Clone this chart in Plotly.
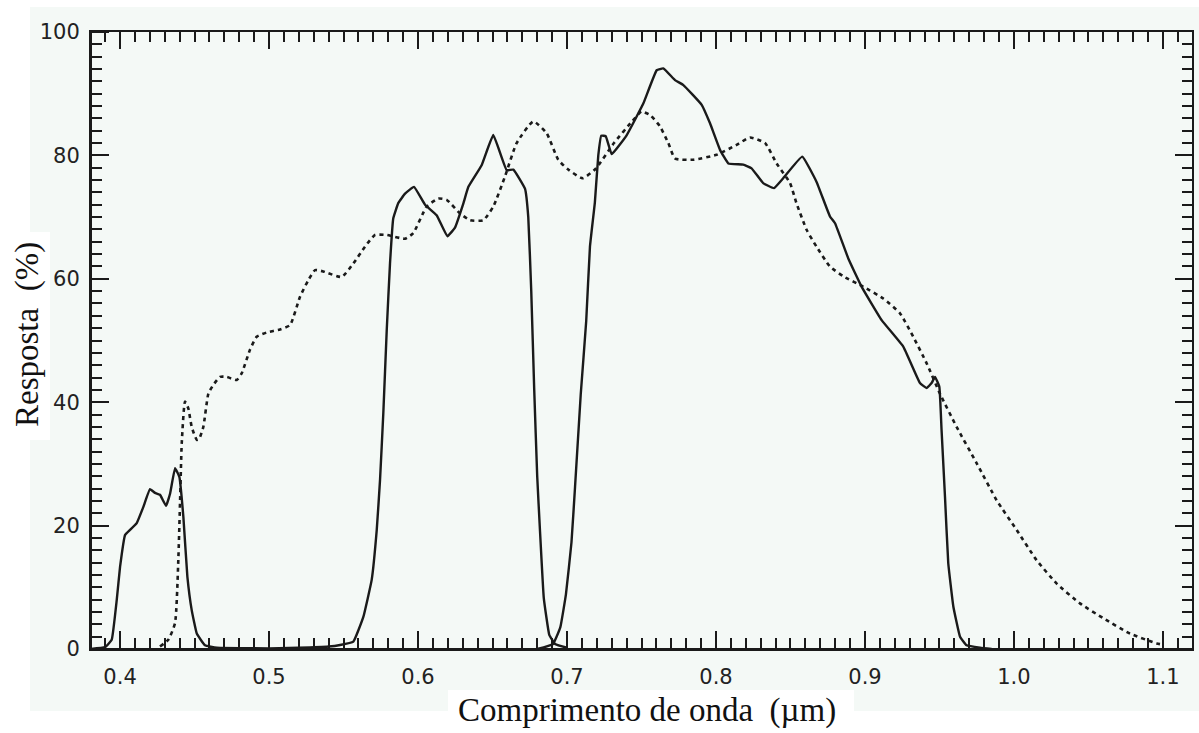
import plotly.graph_objects as go

# ---- data (wavelength in µm, response in %) ----
band1_x = [0.380, 0.390, 0.3944, 0.3978, 0.400, 0.4034, 0.4067, 0.4112, 0.4156, 0.4201, 0.4235,
           0.4268, 0.4309, 0.4336, 0.4369, 0.4398, 0.4425, 0.4452, 0.4481, 0.4515, 0.4570, 0.465, 0.500]
band1_y = [0.0, 0.3, 1.5, 8.0, 13.3, 18.5, 19.3, 20.4, 23.0, 25.9, 25.3,
           25.0, 23.2, 25.2, 29.3, 27.9, 21.4, 11.7, 6.3, 2.5, 0.6, 0.2, 0.1]

band2_x = [0.500, 0.520, 0.540, 0.5477, 0.5566, 0.5633, 0.5689, 0.5723, 0.5745, 0.5767, 0.5790,
           0.5812, 0.5834, 0.5868, 0.5913, 0.5973, 0.6047, 0.6125, 0.6197, 0.6248, 0.6304, 0.6338,
           0.6427, 0.6505, 0.6595, 0.6640, 0.6718, 0.6740, 0.6760, 0.6780, 0.6800, 0.6819, 0.6844,
           0.6881, 0.6920, 0.7000]
band2_y = [0.1, 0.2, 0.4, 0.65, 1.2, 5.2, 11.2, 19.3, 27.4, 38.2, 51.7,
           62.5, 69.8, 72.3, 73.8, 74.9, 72.0, 70.3, 66.9, 68.3, 72.2, 74.9,
           78.4, 83.3, 77.6, 77.7, 74.6, 70.0, 58.0, 42.0, 28.0, 19.0, 8.3,
           2.3, 0.8, 0.2]

band3_x = [0.680, 0.6906, 0.6955, 0.6993, 0.7030, 0.7054, 0.7092, 0.7129, 0.7154, 0.7187, 0.7210,
           0.7230, 0.7260, 0.7300, 0.7401, 0.7512, 0.7602, 0.7646, 0.7725, 0.7781, 0.7904, 0.7960,
           0.8027, 0.8083, 0.8183, 0.8239, 0.8317, 0.8389, 0.8451, 0.8579, 0.8675, 0.8765, 0.8799,
           0.8888, 0.8978, 0.9112, 0.9257, 0.9369, 0.9414, 0.9447, 0.9470, 0.9499, 0.9514, 0.9537,
           0.9559, 0.9593, 0.9638, 0.9682, 0.9772, 0.9850]
band3_y = [0.0, 0.8, 3.5, 8.9, 17.3, 26.3, 41.2, 53.2, 65.2, 72.4, 80.0,
           83.2, 83.1, 80.2, 83.3, 88.4, 93.8, 94.1, 92.2, 91.4, 88.2, 85.2,
           80.9, 78.7, 78.5, 77.9, 75.5, 74.7, 76.3, 79.8, 75.7, 70.1, 69.0,
           63.3, 58.7, 53.3, 49.0, 43.1, 42.3, 43.1, 44.1, 42.5, 35.5, 24.7,
           13.9, 6.9, 2.0, 0.6, 0.2, 0.0]

dotted_x = [0.4268, 0.4324, 0.4369, 0.4391, 0.4403, 0.4414, 0.4436, 0.4458, 0.4481, 0.4515, 0.4530,
            0.4559, 0.4593, 0.4626, 0.4671, 0.4716, 0.4783, 0.4817, 0.4872, 0.4917, 0.4984, 0.5074,
            0.5141, 0.5208, 0.5264, 0.5309, 0.5364, 0.5488, 0.5566, 0.5644, 0.5711, 0.5790, 0.5913,
            0.5968, 0.6058, 0.6136, 0.6192, 0.6282, 0.6349, 0.6438, 0.6505, 0.6584, 0.6662, 0.6774,
            0.6863, 0.6941, 0.7004, 0.7104, 0.7191, 0.7315, 0.7440, 0.7500, 0.7560, 0.7624, 0.7680,
            0.7725, 0.7848, 0.8004, 0.8138, 0.8228, 0.8329, 0.8407, 0.8497, 0.8541, 0.8609, 0.8675,
            0.8765, 0.8855, 0.8989, 0.9123, 0.9235, 0.9324, 0.9414, 0.9503, 0.9615, 0.9750, 0.9884,
            1.0018, 1.0152, 1.0287, 1.0443, 1.0599, 1.0779, 1.0958, 1.1000]
dotted_y = [0.4, 1.5, 4.2, 14.4, 24.1, 33.3, 40.1, 39.0, 36.0, 33.9, 34.0,
            36.0, 41.4, 42.8, 44.1, 44.1, 43.6, 44.7, 48.5, 50.6, 51.3, 51.8,
            52.5, 57.1, 59.8, 61.4, 61.2, 60.3, 62.5, 65.2, 67.1, 67.1, 66.5,
            67.4, 71.7, 73.0, 72.8, 70.6, 69.5, 69.5, 71.7, 76.6, 82.0, 85.5,
            83.6, 79.3, 77.8, 76.3, 77.8, 82.0, 85.6, 87.1, 86.5, 84.7, 82.0,
            79.5, 79.3, 80.1, 81.7, 82.9, 82.0, 78.7, 75.5, 72.2, 67.9, 65.2,
            62.0, 60.4, 58.7, 56.8, 54.4, 50.6, 46.3, 41.4, 36.0, 30.1, 24.1,
            19.3, 14.4, 10.6, 7.4, 5.0, 2.5, 0.9, 0.7]

x_tickvals = [0.4, 0.5, 0.6, 0.7, 0.8, 0.9, 1.0, 1.1]
x_ticktext = ["0.4", "0.5", "0.6", "0.7", "0.8", "0.9", "1.0", "1.1"]
y_tickvals = [0, 20, 40, 60, 80, 100]
y_ticktext = ["0", "20", "40", "60", "80", "100"]

x_title = "Comprimento de onda  (µm)"
y_title = "Resposta  (%)"

# ---- layout geometry (pixels) ----
W, H = 1199, 733
L, R, T, B = 91, 7, 32, 84
PW, PH = W - L - R, H - T - B
INK = "#1a1a1a"
PALE = "#f4f9f6"
CLEAR = "rgba(0,0,0,0)"
X_RANGE = [0.3805, 1.1195]
Y_RANGE = [0, 100]


def px(x):
    return (x - L) / PW


def py(y):
    return (H - B - y) / PH


fig = go.Figure()
solid = dict(color=INK, width=2.4, shape="spline", smoothing=0.3)
fig.add_trace(go.Scatter(x=band1_x, y=band1_y, mode="lines", xaxis="x3", yaxis="y3",
                         line=solid, showlegend=False, hoverinfo="skip"))
fig.add_trace(go.Scatter(x=band2_x, y=band2_y, mode="lines", xaxis="x", yaxis="y",
                         line=solid, showlegend=False, hoverinfo="skip"))
fig.add_trace(go.Scatter(x=band3_x, y=band3_y, mode="lines", xaxis="x4", yaxis="y4",
                         line=solid, showlegend=False, hoverinfo="skip"))
fig.add_trace(go.Scatter(x=dotted_x, y=dotted_y, mode="lines", xaxis="x2", yaxis="y2",
                         line=dict(color=INK, width=2.6, dash="4px,4px", shape="spline", smoothing=0.5),
                         showlegend=False, hoverinfo="skip"))

frame = dict(showgrid=False, zeroline=False, showline=True, linecolor=INK, linewidth=2,
             tickcolor=INK, tickwidth=2, ticklen=17, showticklabels=False,
             mirror=False, fixedrange=True)
x_minor_in = dict(dtick=0.01, tick0=0.4, ticks="inside", ticklen=10, tickwidth=2, tickcolor=INK)
y_minor_in = dict(dtick=2, tick0=0, ticks="inside", ticklen=10, tickwidth=2, tickcolor=INK)
x_minor_out = dict(dtick=0.01, tick0=0.4, ticks="outside", ticklen=10, tickwidth=2, tickcolor=INK)
y_minor_out = dict(dtick=2, tick0=0, ticks="outside", ticklen=10, tickwidth=2, tickcolor=INK)
label_font = dict(family="DejaVu Sans", size=21, color="#222222")
labels = dict(showgrid=False, zeroline=False, showline=False, ticks="outside", tickcolor=CLEAR,
              tickwidth=1, showticklabels=True, tickfont=label_font, fixedrange=True)

fig.update_layout(
    # bottom / left frame (ticks pointing into the plot)
    xaxis=dict(range=X_RANGE, tickmode="array", tickvals=x_tickvals, minor=x_minor_in,
               ticks="inside", side="bottom", anchor="y", **frame),
    yaxis=dict(range=Y_RANGE, tickmode="array", tickvals=y_tickvals, minor=y_minor_in,
               ticks="inside", side="left", anchor="x", **frame),
    # top / right frame
    xaxis2=dict(range=X_RANGE, tickmode="array", tickvals=x_tickvals, minor=x_minor_in,
                ticks="inside", overlaying="x", side="top", anchor="y2", **frame),
    yaxis2=dict(range=Y_RANGE, tickmode="array", tickvals=y_tickvals, minor=y_minor_in,
                ticks="inside", overlaying="y", side="right", anchor="x2", **frame),
    # tick labels
    xaxis3=dict(range=X_RANGE, tickmode="array", tickvals=x_tickvals, ticktext=x_ticktext,
                overlaying="x", side="bottom", anchor="y3", ticklen=9, **labels),
    yaxis3=dict(range=Y_RANGE, tickmode="array", tickvals=y_tickvals, ticktext=y_ticktext,
                overlaying="y", side="left", anchor="x3", ticklen=6, **labels),
    # second copy of the bottom / left tick marks, drawn from the opposite side convention
    xaxis4=dict(range=X_RANGE, tickmode="array", tickvals=x_tickvals, minor=x_minor_out,
                ticks="outside", overlaying="x", side="top", anchor="free", position=0, **frame),
    yaxis4=dict(range=Y_RANGE, tickmode="array", tickvals=y_tickvals, minor=y_minor_out,
                ticks="outside", overlaying="y", side="right", anchor="free", position=0, **frame),
)

shapes = [
    dict(type="rect", xref="paper", yref="paper", x0=px(30), x1=px(1199), y0=py(711), y1=py(7),
         fillcolor=PALE, line=dict(width=0), layer="below"),
    dict(type="rect", xref="paper", yref="paper", x0=px(0), x1=px(50), y0=py(440), y1=py(232),
         fillcolor="white", line=dict(width=0), layer="below"),
    dict(type="rect", xref="paper", yref="paper", x0=px(448), x1=px(854), y0=py(733), y1=py(690),
         fillcolor="white", line=dict(width=0), layer="below"),
]

annotations = [
    dict(text=x_title, xref="paper", yref="paper", x=px(647), y=py(710), showarrow=False,
         xanchor="center", yanchor="middle",
         font=dict(family="Liberation Serif", size=33, color="#111111")),
    dict(text=y_title, xref="paper", yref="paper", x=px(27), y=py(335), showarrow=False,
         xanchor="center", yanchor="middle", textangle=-90,
         font=dict(family="Liberation Serif", size=33, color="#111111")),
]

fig.update_layout(
    width=W, height=H, margin=dict(l=L, r=R, t=T, b=B, pad=0),
    paper_bgcolor="white", plot_bgcolor=PALE,
    shapes=shapes, annotations=annotations, showlegend=False,
)

fig.write_html("out.html", config={"displayModeBar": False})
